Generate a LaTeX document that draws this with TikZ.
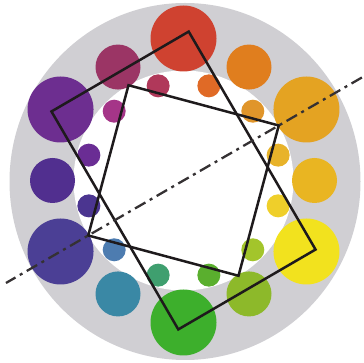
\documentclass[tikz,border=0pt]{standalone}
\usetikzlibrary{calc}
\definecolor{ringgrey}{HTML}{D0CFD3}
\definecolor{inkline}{HTML}{1E1A1C}
% large
\definecolor{cA}{HTML}{CF4230}
\definecolor{cB}{HTML}{E4A322}
\definecolor{cC}{HTML}{F2E21E}
\definecolor{cD}{HTML}{3DAF2C}
\definecolor{cE}{HTML}{4B3F95}
\definecolor{cF}{HTML}{6D2E90}
% medium
\definecolor{mA}{HTML}{9B3565}
\definecolor{mB}{HTML}{E07E1E}
\definecolor{mC}{HTML}{E9B522}
\definecolor{mD}{HTML}{8DB92A}
\definecolor{mE}{HTML}{3A88A5}
\definecolor{mF}{HTML}{512F8F}
% small
\definecolor{s105}{HTML}{B0385A}
\definecolor{s135}{HTML}{A53588}
\definecolor{s165}{HTML}{6A2D94}
\definecolor{s195}{HTML}{4B3590}
\definecolor{s225}{HTML}{4D7CB0}
\definecolor{s255}{HTML}{3F9F6F}
\definecolor{s285}{HTML}{5AAF2E}
\definecolor{s315}{HTML}{A3C52B}
\definecolor{s345}{HTML}{EFCF2A}
\definecolor{s15}{HTML}{E8B32A}
\definecolor{s45}{HTML}{E0952A}
\definecolor{s75}{HTML}{E06A26}
\begin{document}
\begin{tikzpicture}[x=1pt,y=1pt,
  bigdot/.style={circle,minimum size=66pt,inner sep=0pt,draw=none,fill=#1},
  meddot/.style={circle,minimum size=45pt,inner sep=0pt,draw=none,fill=#1},
  smalldot/.style={circle,minimum size=23pt,inner sep=0pt,draw=none,fill=#1},
  frame/.style={draw=inkline,line width=2.5pt,line join=miter},
  axisline/.style={draw=inkline!90,line width=2.3pt,dash pattern=on 12pt off 5pt on 3pt off 5pt}]
\useasboundingbox (0,0) rectangle (364,363);
\fill[ringgrey] (185,181.5) ellipse [x radius=175.5, y radius=178.5];
\begin{scope}[shift={(183.5,182.5)}]
  \fill[white] (0,0) circle (110);
  % large circles
  \node[bigdot=cA] (L90) at (90:142) {};
  \node[bigdot=cB] (L30) at (30:142) {};
  \node[bigdot=cC] (L330) at (-30:142) {};
  \node[bigdot=cD] (L270) at (-90:142) {};
  \node[bigdot=cE] (L210) at (210:142) {};
  \node[bigdot=cF] (L150) at (150:142) {};
  % medium circles
  \node[meddot=mA] (M120) at (120:131) {};
  \node[meddot=mB] (M60) at (60:131) {};
  \node[meddot=mC] (M0) at (0:131) {};
  \node[meddot=mD] (M300) at (-60:131) {};
  \node[meddot=mE] (M240) at (240:131) {};
  \node[meddot=mF] (M180) at (180:131) {};
  % small circles
  \foreach \a in {15,45,75,105,135,165,195,225,255,285,315,345}
    \node[smalldot=s\a] (S\a) at (\a:98) {};
  % outer rectangle
  \coordinate (R1) at (88:149);
  \coordinate (R2) at (152.4:149);
  \coordinate (R3) at (268:149);
  \coordinate (R4) at (332.4:149);
  \draw[frame] (R1) -- (R2) -- (R3) -- (R4) -- cycle;
  % inner square
  \coordinate (Q1) at (30:110);
  \coordinate (Q2) at (120:110);
  \coordinate (Q3) at (210:110);
  \coordinate (Q4) at (300:110);
  \draw[frame] (Q1) -- (Q2) -- (Q3) -- (Q4) -- cycle;
  % axis
  \coordinate (A1) at (30:206);
  \coordinate (A2) at (210:205);
  \draw[axisline] (A1) -- (A2);
\end{scope}
\end{tikzpicture}
\end{document}
